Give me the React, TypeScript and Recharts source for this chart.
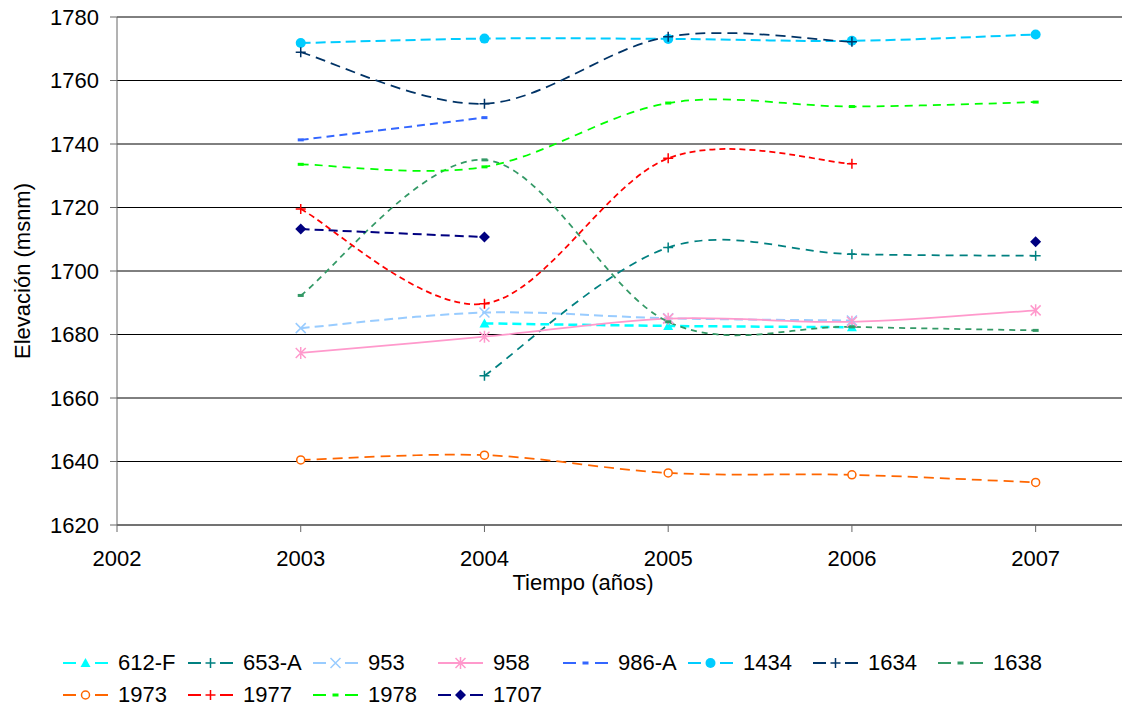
import React from "react";
import {
  CartesianGrid,
  Label,
  Line,
  LineChart,
  XAxis,
  YAxis,
} from "recharts";

// years on the x axis
const years = [2003, 2004, 2005, 2006, 2007];
const xTicks = [2002, 2003, 2004, 2005, 2006, 2007];
const yTicks = [1620, 1640, 1660, 1680, 1700, 1720, 1740, 1760, 1780];

// elevations (msnm) per well, one value per year (null = no reading)
const s612F = [null, 1683.5, 1682.7, 1682.3, null];
const s653A = [null, 1667.0, 1707.4, 1705.3, 1704.8];
const s953 = [1682.0, 1686.9, 1685.1, 1684.4, null];
const s958 = [1674.2, 1679.3, 1685.0, 1684.0, 1687.6];
const s986A = [1741.3, 1748.3, null, null, null];
const s1434 = [1771.8, 1773.2, 1773.1, 1772.5, 1774.5];
const s1634 = [1768.9, 1752.7, 1773.8, 1772.2, null];
const s1638 = [1692.3, 1735.0, 1684.0, 1682.4, 1681.3];
const s1973 = [1640.5, 1642.0, 1636.4, 1635.8, 1633.4];
const s1977 = [1719.5, 1689.7, 1735.5, 1733.8, null];
const s1978 = [1733.6, 1732.8, 1752.9, 1751.8, 1753.2];
const s1707 = [1713.2, 1710.7, null, null, 1709.2];

type Shape = "triangle" | "plus" | "x" | "star" | "dash" | "dot" | "ring" | "diamond";

const series: {
  name: string;
  values: (number | null)[];
  color: string;
  shape: Shape;
  dash: string;
  width: number;
}[] = [
  { name: "612-F", values: s612F, color: "#00FFFF", shape: "triangle", dash: "9 5", width: 2.5 },
  { name: "653-A", values: s653A, color: "#008080", shape: "plus", dash: "8 6", width: 1.75 },
  { name: "953", values: s953, color: "#99CCFF", shape: "x", dash: "9 5", width: 2 },
  { name: "958", values: s958, color: "#FF99CC", shape: "star", dash: "", width: 1.75 },
  { name: "986-A", values: s986A, color: "#3366FF", shape: "dash", dash: "8 5", width: 2 },
  { name: "1434", values: s1434, color: "#00CCFF", shape: "dot", dash: "10 5", width: 2 },
  { name: "1634", values: s1634, color: "#003366", shape: "plus", dash: "10 6", width: 1.75 },
  { name: "1638", values: s1638, color: "#339966", shape: "dash", dash: "6 5", width: 1.75 },
  { name: "1973", values: s1973, color: "#FF6600", shape: "ring", dash: "10 6", width: 1.75 },
  { name: "1977", values: s1977, color: "#FF0000", shape: "plus", dash: "6 4", width: 1.75 },
  { name: "1978", values: s1978, color: "#00FF00", shape: "dash", dash: "8 6", width: 1.75 },
  { name: "1707", values: s1707, color: "#000080", shape: "diamond", dash: "9 5", width: 2 },
];

const rows = years.map((year, i) => {
  const row: Record<string, number | null> = { year };
  series.forEach((s) => {
    row[s.name] = s.values[i];
  });
  return row;
});

const FONT = "'Liberation Sans', Arial, sans-serif";

// Excel style smoothed line (Catmull-Rom as bezier)
const excelSmooth = (context: any) => {
  let pts: [number, number][] = [];
  return {
    areaStart() {},
    areaEnd() {},
    lineStart() {
      pts = [];
    },
    lineEnd() {
      if (!pts.length) return;
      context.moveTo(pts[0][0], pts[0][1]);
      for (let i = 0; i < pts.length - 1; i++) {
        const p0 = pts[Math.max(i - 1, 0)];
        const p1 = pts[i];
        const p2 = pts[i + 1];
        const p3 = pts[Math.min(i + 2, pts.length - 1)];
        context.bezierCurveTo(
          p1[0] + (p2[0] - p0[0]) / 6,
          p1[1] + (p2[1] - p0[1]) / 6,
          p2[0] - (p3[0] - p1[0]) / 6,
          p2[1] - (p3[1] - p1[1]) / 6,
          p2[0],
          p2[1]
        );
      }
    },
    point(x: number, y: number) {
      pts.push([x, y]);
    },
  };
};

function Marker({ shape, color, cx, cy }: { shape: Shape; color: string; cx: number; cy: number }) {
  switch (shape) {
    case "triangle":
      return <path d={`M${cx},${cy - 5}L${cx + 5},${cy + 4}L${cx - 5},${cy + 4}Z`} fill={color} />;
    case "plus":
      return (
        <path d={`M${cx - 5},${cy}H${cx + 5}M${cx},${cy - 5}V${cy + 5}`} stroke={color} strokeWidth={1.5} fill="none" />
      );
    case "x":
      return (
        <path
          d={`M${cx - 5},${cy - 5}L${cx + 5},${cy + 5}M${cx + 5},${cy - 5}L${cx - 5},${cy + 5}`}
          stroke={color}
          strokeWidth={1.5}
          fill="none"
        />
      );
    case "star":
      return (
        <path
          d={`M${cx - 5},${cy - 5}L${cx + 5},${cy + 5}M${cx + 5},${cy - 5}L${cx - 5},${cy + 5}M${cx},${cy - 6}V${cy + 6}`}
          stroke={color}
          strokeWidth={1.5}
          fill="none"
        />
      );
    case "dash":
      return <rect x={cx - 3} y={cy - 1.5} width={6} height={3} fill={color} />;
    case "dot":
      return <circle cx={cx} cy={cy} r={5} fill={color} />;
    case "ring":
      return <circle cx={cx} cy={cy} r={4} fill="#fff" stroke={color} strokeWidth={1.5} />;
    case "diamond":
      return <path d={`M${cx},${cy - 5.5}L${cx + 5.5},${cy}L${cx},${cy + 5.5}L${cx - 5.5},${cy}Z`} fill={color} />;
  }
  return null;
}

function LegendBox() {
  return (
    <div
      style={{
        position: "absolute",
        left: 63,
        top: 647,
        width: 1059,
        fontFamily: FONT,
        fontSize: 22,
        display: "flex",
        flexWrap: "wrap",
      }}
    >
      {series.map((s) => (
        <div key={s.name} style={{ width: 125, height: 32, display: "flex", alignItems: "center" }}>
          <svg width={45} height={14} style={{ flex: "none" }}>
            {s.dash ? (
              <path d="M0,7H13M32,7H45" stroke={s.color} strokeWidth={2} />
            ) : (
              <line x1={0} y1={7} x2={45} y2={7} stroke={s.color} strokeWidth={2} />
            )}
            <Marker shape={s.shape} color={s.color} cx={22.5} cy={7} />
          </svg>
          <span style={{ marginLeft: 10, color: "#000" }}>{s.name}</span>
        </div>
      ))}
    </div>
  );
}

export default function App() {
  return (
    <div style={{ position: "absolute", left: 0, top: 0, width: 1122, height: 708, background: "#fff" }}>
      <LineChart width={1122} height={708} data={rows} margin={{ top: 17, right: 0, left: 0, bottom: 113 }}>
        <CartesianGrid vertical={false} stroke="#000" strokeWidth={1} />
        <XAxis
          dataKey="year"
          type="number"
          domain={[2002, 2007.47]}
          ticks={xTicks}
          allowDataOverflow
          height={70}
          tickSize={7}
          tickMargin={18}
          stroke="#666"
          tick={{ fill: "#000", fontSize: 22, fontFamily: FONT }}
        >
          <Label
            content={() => (
              <text x={583} y={590} textAnchor="middle" fontSize={22} fontFamily={FONT} fill="#000">
                Tiempo (años)
              </text>
            )}
          />
        </XAxis>
        <YAxis
          type="number"
          domain={[1620, 1780]}
          ticks={yTicks}
          width={117}
          tickSize={7}
          tickMargin={11}
          stroke="#666"
          tick={{ fill: "#000", fontSize: 22, fontFamily: FONT }}
        >
          <Label
            content={() => (
              <text
                x={30}
                y={271}
                textAnchor="middle"
                fontSize={22}
                fontFamily={FONT}
                fill="#000"
                transform="rotate(-90 30 271)"
              >
                Elevación (msnm)
              </text>
            )}
          />
        </YAxis>
        {series.map((s) => (
          <Line
            key={s.name}
            dataKey={s.name}
            name={s.name}
            type={excelSmooth as any}
            stroke={s.color}
            strokeWidth={s.width}
            strokeDasharray={s.dash || undefined}
            connectNulls={false}
            isAnimationActive={false}
            activeDot={false}
            dot={(p: any) =>
              p.cy == null || p.value == null ? (
                <g key={`${s.name}-${p.index}`} />
              ) : (
                <g key={`${s.name}-${p.index}`}>
                  <Marker shape={s.shape} color={s.color} cx={p.cx} cy={p.cy} />
                </g>
              )
            }
          />
        ))}
      </LineChart>
      <LegendBox />
    </div>
  );
}
